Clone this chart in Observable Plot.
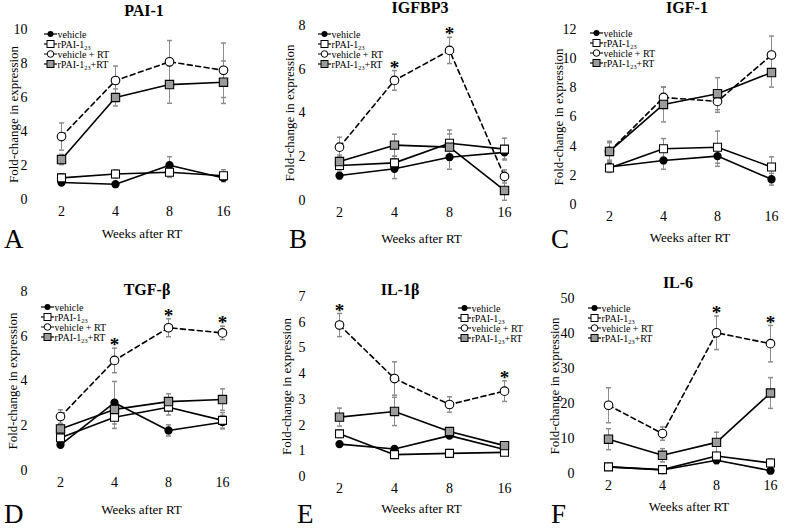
<!DOCTYPE html>
<html><head><meta charset="utf-8">
<script src="https://cdn.jsdelivr.net/npm/d3@7"></script>
<script src="https://cdn.jsdelivr.net/npm/@observablehq/plot@0.6"></script>
<style>
body{margin:0;background:#fff;font-family:"Liberation Serif",serif;}
#fig{position:relative;width:800px;height:531px;overflow:hidden;background:#fff;}
#fig svg, #fig svg text{font-family:"Liberation Serif",serif !important;}
.panel{position:absolute;}
.title{position:absolute;font-weight:bold;font-size:16px;transform:translate(-50%,-50%);white-space:nowrap;}
.letter{position:absolute;font-size:27px;line-height:0.85;}
.legend{position:absolute;overflow:visible;}
</style></head><body><div id="fig"></div>
<script>
// ---------- data ----------
const weeks = ["2", "4", "8", "16"];
const seriesNames = ["vehicle", "rPAI-1_23", "vehicle + RT", "rPAI-1_23+RT"];

// rows: vehicle, rPAI-1_23, vehicle + RT, rPAI-1_23+RT
const pai1Mean = [[1.0, 0.9, 2.02, 1.27], [1.27, 1.5, 1.6, 1.4], [3.7, 7.0, 8.1, 7.6], [2.35, 6.0, 6.76, 6.9]];
const pai1Err  = [[0.15, 0.1, 0.5, 0.2], [0.25, 0.25, 0.3, 0.35], [0.8, 0.85, 1.25, 1.6], [0.3, 0.5, 1.1, 1.25]];
const pai1Stars = [];

const igfbp3Mean = [[1.14, 1.45, 1.98, 2.2], [1.6, 1.72, 2.62, 2.35], [2.44, 5.49, 6.86, 1.1], [1.78, 2.53, 2.44, 0.46]];
const igfbp3Err  = [[0.15, 0.45, 0.55, 0.3], [0.2, 0.3, 0.6, 0.5], [0.45, 0.45, 0.6, 0.3], [0.3, 0.5, 0.6, 0.45]];
const igfbp3Stars = ["4", "8"];

const igf1Mean = [[2.57, 3.02, 3.32, 1.73], [2.5, 3.82, 3.93, 2.57], [3.64, 7.34, 7.07, 10.25], [3.64, 6.86, 7.6, 9.05]];
const igf1Err  = [[0.3, 0.6, 0.7, 0.4], [0.3, 0.7, 1.1, 0.7], [0.6, 0.7, 0.75, 1.3], [0.7, 1.2, 1.1, 1.0]];
const igf1Stars = [];

const tgfbMean = [[1.15, 3.03, 1.79, 2.16], [1.46, 2.38, 2.83, 2.24], [2.41, 4.92, 6.38, 6.15], [1.86, 2.73, 3.08, 3.17]];
const tgfbErr  = [[0.1, 0.95, 0.25, 0.3], [0.2, 0.5, 0.35, 0.35], [0.3, 0.55, 0.4, 0.3], [0.2, 0.3, 0.35, 0.48]];
const tgfbStars = ["4", "8", "16"];

const il1bMean = [[1.26, 1.07, 1.59, 1.05], [1.66, 0.85, 0.9, 0.94], [5.89, 3.81, 2.8, 3.32], [2.31, 2.53, 1.75, 1.2]];
const il1bErr  = [[0.1, 0.1, 0.1, 0.1], [0.15, 0.1, 0.15, 0.1], [0.45, 0.65, 0.3, 0.4], [0.35, 0.55, 0.1, 0.12]];
const il1bStars = ["2", "16"];

const il6Mean = [[1.9, 1.0, 3.8, 0.8], [1.9, 1.1, 5.0, 3.0], [19.5, 11.4, 40.2, 37.1], [9.8, 5.2, 8.9, 23.0]];
const il6Err  = [[0.5, 0.5, 1.0, 0.5], [0.5, 0.5, 1.0, 1.2], [5.0, 1.9, 4.8, 5.2], [3.0, 1.9, 2.9, 4.4]];
const il6Stars = ["8", "16"];

const panelTitles = ["PAI-1", "IGFBP3", "IGF-1", "TGF-β", "IL-1β", "IL-6"];
const panelLetters = ["A", "B", "C", "D", "E", "F"];
const yMax = [10, 8, 12, 8, 7, 50];
const yTicks = [[0,2,4,6,8,10], [0,2,4,6,8], [0,2,4,6,8,10,12], [0,2,4,6,8], [0,1,2,3,4,5,6,7], [0,10,20,30,40,50]];
const xLabel = "Weeks after RT";
const yLabel = "Fold-change in expression";

// ---------- layout ----------
const layout = [
  {left:0,   top:0,   w:265, h:265, ml:32, mr:14, mt:29, mb:66, title:[144,11], letter:[4,228],  legend:[44,34],  ylo:24, xlo:38},
  {left:265, top:0,   w:270, h:265, ml:45, mr:3,  mt:25, mb:65, title:[420,8],  letter:[289,228], legend:[318,34], ylo:26, xlo:42},
  {left:535, top:0,   w:265, h:265, ml:46, mr:2,  mt:29, mb:61, title:[687,8],  letter:[551,228], legend:[590,33], ylo:28, xlo:37},
  {left:0,   top:265, w:265, h:266, ml:32, mr:15, mt:26, mb:61, title:[147,290], letter:[4,503],  legend:[41,307], ylo:25, xlo:43},
  {left:265, top:265, w:270, h:266, ml:45, mr:3,  mt:31, mb:55, title:[400,290], letter:[297,503], legend:[458,308], ylo:29, xlo:36},
  {left:535, top:265, w:265, h:266, ml:44, mr:2,  mt:33, mb:58, title:[678,283], letter:[551,503], legend:[588,308], ylo:30, xlo:37}
];

const means = [pai1Mean, igfbp3Mean, igf1Mean, tgfbMean, il1bMean, il6Mean];
const errs = [pai1Err, igfbp3Err, igf1Err, tgfbErr, il1bErr, il6Err];
const stars = [pai1Stars, igfbp3Stars, igf1Stars, tgfbStars, il1bStars, il6Stars];

const FONT = '"Liberation Serif", serif';
const axisGray = "#8a8a8a";
const errGray = "#8c8c8c";
const boxGray = "#9b9b9b";
const cap = {draw(ctx, size) { const w = 2.5; ctx.moveTo(-w, 0); ctx.lineTo(w, 0); }};

const fig = document.getElementById("fig");

function addLabelText(sel, name, fs) {
  const parts = name.split("_23");
  const t = sel.append("text").attr("font-size", fs).attr("dominant-baseline", "central").attr("font-family", FONT);
  parts.forEach((p, i) => {
    if (i > 0) {
      t.append("tspan").attr("font-size", fs * 0.62).attr("dy", 3).text("23");
      t.append("tspan").attr("dy", -3).text(p);
    } else {
      t.append("tspan").text(p);
    }
  });
  return t;
}

layout.forEach((L, k) => {
  const rows = [];
  seriesNames.forEach((s, i) => weeks.forEach((w, j) => rows.push({series: s, idx: i, week: w, mean: means[k][i][j], err: errs[k][i][j]})));
  const bySeries = i => rows.filter(d => d.idx === i);
  const starRows = stars[k].map(w => rows.find(d => d.idx === 2 && d.week === w));

  const chart = Plot.plot({
    width: L.w, height: L.h,
    marginLeft: L.ml, marginRight: L.mr, marginTop: L.mt, marginBottom: L.mb,
    x: {type: "point", domain: weeks, padding: 0.5},
    y: {domain: [0, yMax[k]]},
    style: {fontFamily: FONT, fontSize: "14px", color: "black", background: "transparent", overflow: "visible"},
    marks: [
      Plot.axisX({tickSize: 0, tickPadding: 7, fontSize: 14, fontFamily: FONT, label: null, line: true, stroke: axisGray}),
      Plot.axisX({ticks: [], fontSize: 13, fontFamily: FONT, label: xLabel, labelAnchor: "center", labelOffset: L.xlo, labelArrow: "none"}),
      Plot.axisY({ticks: yTicks[k], tickFormat: d => String(d), tickSize: 0, tickPadding: 5, fontSize: 14, fontFamily: FONT, label: null, line: true, stroke: axisGray}),
      Plot.axisY({ticks: [], fontSize: 13, fontFamily: FONT, label: yLabel, labelAnchor: "center", labelOffset: L.ylo, labelArrow: "none"}),
      Plot.ruleX(rows, {x: "week", y1: d => d.mean - d.err, y2: d => d.mean + d.err, stroke: errGray, strokeWidth: 1}),
      Plot.dot(rows, {x: "week", y: d => d.mean + d.err, symbol: cap, r: 3, stroke: errGray, fill: "none"}),
      Plot.dot(rows, {x: "week", y: d => d.mean - d.err, symbol: cap, r: 3, stroke: errGray, fill: "none"}),
      Plot.line(rows.filter(d => d.idx !== 2), {x: "week", y: "mean", z: "series", stroke: "black", strokeWidth: 1.6}),
      Plot.line(bySeries(2), {x: "week", y: "mean", stroke: "black", strokeWidth: 1.6, strokeDasharray: "5,3.5"}),
      Plot.dot(bySeries(0), {x: "week", y: "mean", r: 3.4, fill: "black", stroke: "black"}),
      Plot.dot(bySeries(1), {x: "week", y: "mean", symbol: "square", r: 4.5, fill: "white", stroke: "black", strokeWidth: 1.1}),
      Plot.dot(bySeries(2), {x: "week", y: "mean", symbol: "circle", r: 4.3, fill: "white", stroke: "black", strokeWidth: 1.1}),
      Plot.dot(bySeries(3), {x: "week", y: "mean", symbol: "square", r: 4.7, fill: boxGray, stroke: "black", strokeWidth: 1.1}),
      Plot.text(starRows, {x: "week", y: d => d.mean + d.err, text: () => "*", dy: -3, fontSize: 19, fontWeight: "bold", fontFamily: FONT})
    ]
  });
  const wrap = document.createElement("div");
  wrap.className = "panel";
  wrap.style.left = L.left + "px";
  wrap.style.top = L.top + "px";
  wrap.appendChild(chart);
  fig.appendChild(wrap);

  // title
  const t = document.createElement("div");
  t.className = "title";
  t.style.left = L.title[0] + "px";
  t.style.top = L.title[1] + "px";
  t.textContent = panelTitles[k];
  fig.appendChild(t);

  // letter
  const l = document.createElement("div");
  l.className = "letter";
  l.style.left = L.letter[0] + "px";
  l.style.top = L.letter[1] + "px";
  l.textContent = panelLetters[k];
  fig.appendChild(l);

  // legend
  const svg = d3.select(fig).append("svg").attr("class", "legend")
    .attr("width", 100).attr("height", 44)
    .style("left", L.legend[0] + "px").style("top", (L.legend[1] - 5) + "px");
  seriesNames.forEach((s, i) => {
    const g = svg.append("g").attr("transform", `translate(0,${5 + i * 10})`);
    g.append("line").attr("x1", 0).attr("x2", 13).attr("y1", 0).attr("y2", 0)
      .attr("stroke", "black").attr("stroke-width", 1.2)
      .attr("stroke-dasharray", i === 2 ? "3,7,3" : null);
    if (i === 0) g.append("circle").attr("cx", 6.5).attr("r", 3).attr("fill", "black");
    if (i === 1) g.append("rect").attr("x", 3).attr("y", -3.5).attr("width", 7).attr("height", 7).attr("fill", "white").attr("stroke", "black");
    if (i === 2) g.append("circle").attr("cx", 6.5).attr("r", 3.3).attr("fill", "white").attr("stroke", "black");
    if (i === 3) g.append("rect").attr("x", 3).attr("y", -3.5).attr("width", 7).attr("height", 7).attr("fill", boxGray).attr("stroke", "black");
    addLabelText(g, s, 10).attr("x", 13.5);
  });
});
</script></body></html>
